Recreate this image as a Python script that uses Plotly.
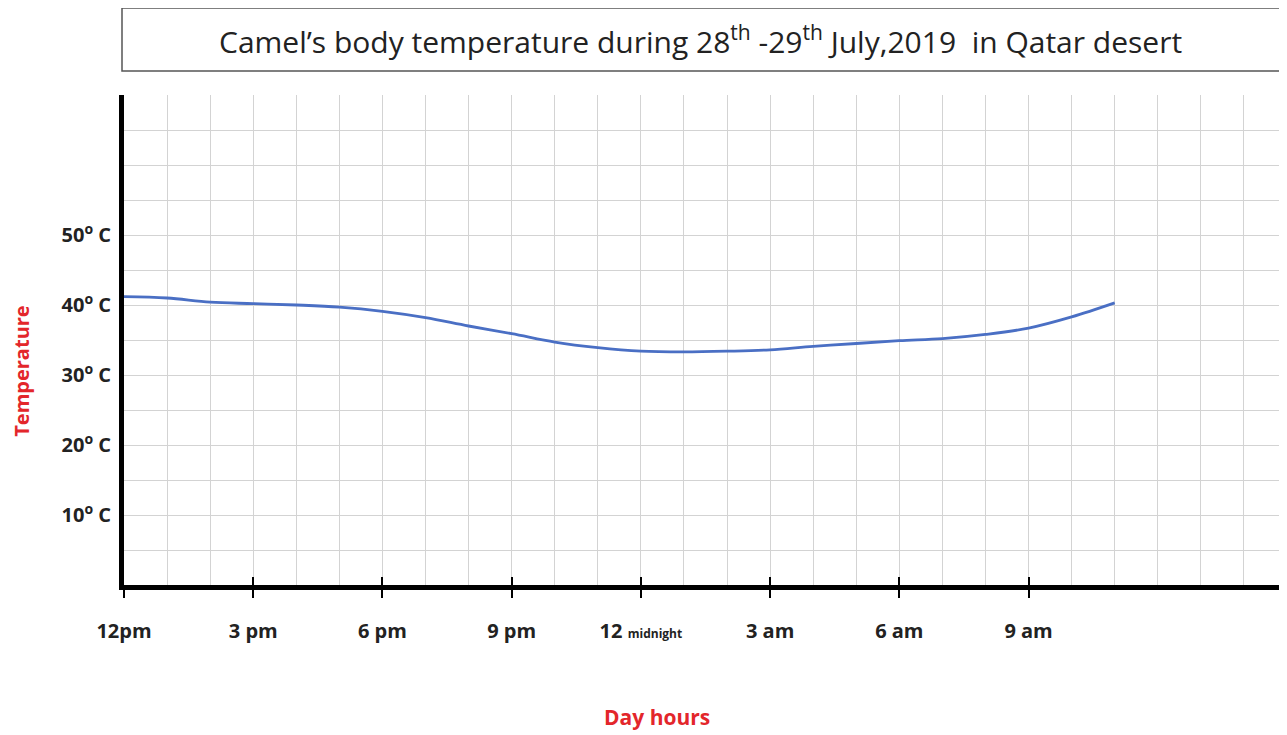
import plotly.graph_objects as go

# ---- data ----
hours = [0, 1, 2, 3, 4, 5, 6, 7, 8, 9, 10, 11, 12, 13, 14, 15, 16, 17, 18, 19, 20, 21, 22, 23]
temps = [41.2, 41.0, 40.4, 40.2, 40.0, 39.7, 39.1, 38.2, 37.0, 35.9, 34.7, 33.9, 33.4, 33.3,
         33.4, 33.6, 34.1, 34.5, 34.9, 35.2, 35.8, 36.7, 38.3, 40.3]

x_tick_vals = [0, 3, 6, 9, 12, 15, 18, 21]
x_tick_text = ["12pm", "3 pm", "6 pm", "9 pm",
               "12 <span style='font-size:12px'>midnight</span>",
               "3 am", "6 am", "9 am"]
y_grid_vals = list(range(0, 75, 5))
y_tick_text = ["", "", "10<sup>o</sup> C", "", "20<sup>o</sup> C", "", "30<sup>o</sup> C", "",
               "40<sup>o</sup> C", "", "50<sup>o</sup> C", "", "", "", ""]
title_text = "Camel’s body temperature during 28<sup>th</sup> -29<sup>th</sup> July,2019  in Qatar desert"
x_title = "<b>Day hours</b>"
y_title = "<b>Temperature</b>"

GRID = "#d3d3d3"
RED = "#e3262b"

# page body has an 8px margin: figure is sized/placed to compensate
W, H = 1279, 727
ML, MT, MB = 116, 87, 149.5
PH = H - MT - MB          # plot height in px
PW = W - ML               # plot width in px

def px_to_paper_y(y_screen):
    return (H - MB - (y_screen - 8)) / PH

def px_to_paper_x(x_screen):
    return ((x_screen - 8) - ML) / PW

fig = go.Figure()
fig.add_trace(go.Scatter(
    x=hours, y=temps, mode="lines",
    line=dict(color="#4a6fc4", width=2.8, shape="spline", smoothing=1.0),
    hoverinfo="skip", showlegend=False,
))
# invisible point so the overlay axis (crossing tick marks) is rendered
fig.add_trace(go.Scatter(x=[0], y=[0], xaxis="x2", mode="markers", marker=dict(opacity=0),
                         hoverinfo="skip", showlegend=False))

fig.update_layout(
    width=W, height=H,
    margin=dict(l=ML, r=0, t=MT, b=MB, pad=0),
    paper_bgcolor="white", plot_bgcolor="white",
    xaxis=dict(
        range=[0, 27], tickmode="array", tickvals=x_tick_vals, ticktext=x_tick_text,
        showgrid=False, zeroline=False,
        showline=True, linecolor="black", linewidth=5,
        ticks="outside", ticklen=8, tickwidth=2, tickcolor="black",
        tickfont=dict(family="Open Sans", size=20, color="#222222", weight="bold"),
        ticklabelstandoff=16,
        minor=dict(tickmode="array", tickvals=list(range(0, 28)), showgrid=True,
                   gridcolor=GRID, gridwidth=1, ticks=""),
    ),
    xaxis2=dict(
        range=[0, 27], overlaying="x", side="bottom", tickmode="array", tickvals=x_tick_vals,
        ticktext=[""] * len(x_tick_vals), ticks="inside", ticklen=8, tickwidth=2, tickcolor="black",
        showgrid=False, zeroline=False, showline=False,
    ),
    yaxis=dict(
        range=[0, 70], tickmode="array", tickvals=y_grid_vals, ticktext=y_tick_text,
        showgrid=True, gridcolor=GRID, gridwidth=1, zeroline=False,
        showline=True, linecolor="black", linewidth=5, ticks="",
        tickfont=dict(family="Open Sans", size=20, color="#222222", weight="bold"),
        ticklabelstandoff=4,
    ),
    shapes=[dict(type="rect", xref="paper", yref="paper",
                 x0=px_to_paper_x(122), x1=px_to_paper_x(1283),
                 y0=px_to_paper_y(71), y1=px_to_paper_y(8),
                 line=dict(color="#555555", width=1.5), fillcolor="rgba(0,0,0,0)")],
    annotations=[
        dict(text=title_text, xref="paper", yref="paper", x=px_to_paper_x(700),
             y=px_to_paper_y(40), xanchor="center", yanchor="middle", showarrow=False,
             font=dict(family="Open Sans", size=30, color="#222222")),
        dict(text=x_title, xref="paper", yref="paper", x=px_to_paper_x(657),
             y=px_to_paper_y(718), xanchor="center", yanchor="middle", showarrow=False,
             font=dict(family="Open Sans", size=21, color=RED)),
        dict(text=y_title, xref="paper", yref="paper", x=px_to_paper_x(22),
             y=px_to_paper_y(372), xanchor="center", yanchor="middle", showarrow=False,
             textangle=-90, font=dict(family="Open Sans", size=20, color=RED)),
    ],
)

fig.write_html("out.html")
